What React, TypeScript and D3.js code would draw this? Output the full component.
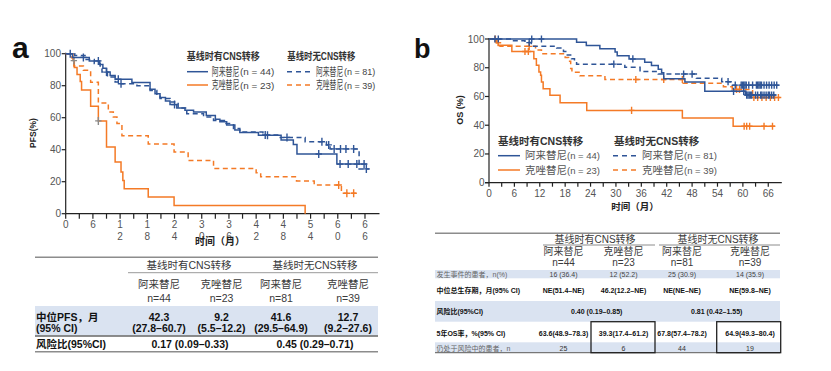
import React from "react";
import * as d3 from "d3";

type Pt = [number, number];

// ---------- panel a : PFS (month, % survival) ----------
const pfsAlecCnsPos: Pt[] = [
  [0, 100], [1.5, 97.7], [5.2, 95.5], [7.5, 93.2], [8.2, 90.9], [9, 88.6], [9.8, 86.4],
  [10.9, 84.1], [14.6, 82], [18.6, 77.8], [19.7, 75], [20.8, 72.7], [22, 70.5], [23, 68.2],
  [24.5, 66], [26.3, 64.6], [28.2, 63.6], [31, 61.4], [33, 59.1], [34, 57.5], [35.5, 55.4],
  [37.3, 52.3], [38.4, 50.8], [42.5, 49], [47.5, 46], [50.2, 43.2], [51, 37.3], [59.8, 31],
];
const pfsAlecCnsPosCensor = [1, 3.9, 7.2, 11.6, 24, 44.5, 55.8, 60.5, 62.3, 64.2, 65.8];
const pfsAlecCnsNeg: Pt[] = [
  [0, 100], [2, 98.8], [4.5, 96.3], [6.3, 93.8], [7.6, 90.6], [8, 88.5], [9.2, 85.4],
  [10.9, 82.3], [12, 81.2], [15.7, 80], [18.6, 77], [20.1, 74], [20.8, 72], [23, 69.8],
  [24.8, 66], [26.7, 62.5], [30.4, 60.4], [32.6, 58.3], [35, 56.3], [37, 53.3], [38.4, 51],
  [43.5, 49.2], [47, 47.7], [52.8, 45], [57.5, 43], [58.3, 40.5], [64.7, 28],
];
const pfsAlecCnsNegCensor = [9, 12.2, 44, 48.8, 56.5, 58, 59.2, 60.6, 61.8, 63.5, 66.3];
const pfsCrizCnsPos: Pt[] = [
  [0, 100], [1.6, 95.7], [1.9, 91.3], [2.5, 87], [3.2, 82.6], [3.5, 77.3], [5.5, 67.2],
  [7.2, 58], [9, 41.7], [10.9, 32.3], [12.2, 26], [12.6, 20.8], [12.9, 15.6], [18.2, 10.4],
  [23.9, 5.2], [52.8, 0],
];
const pfsCrizCnsPosGrayCensor = [1.8, 7.2];
const pfsCrizCnsNeg: Pt[] = [
  [0, 100], [1.3, 97.4], [1.8, 92.3], [3.9, 89.7], [5.5, 82.1], [7.2, 69.2], [9.4, 63.5],
  [10.5, 60.4], [11.3, 56.4], [12.4, 48.7], [18.2, 43.6], [23.9, 38.5], [27, 33.3],
  [32.6, 28.2], [42, 25.6], [43, 23.1], [50.9, 20.5], [54.8, 17.9], [60.8, 12.8],
];
const pfsCrizCnsNegCensor = [60.2, 62, 63.5];
const pfsEnds = [66.5, 67, 52.8, 64.6];

// ---------- panel b : OS ----------
const osAlecCnsPos: Pt[] = [
  [0, 100], [20.7, 97.7], [23, 95.5], [26.2, 93.2], [29.8, 90.9], [30.3, 88.4], [33.1, 86.1],
  [36.8, 83.8], [38.4, 81.5], [40, 79], [40.8, 76.6], [41.3, 72.4], [46.3, 70], [51, 63.6],
  [60.6, 61],
];
const osAlecCnsPosCensor = [
  1.4, 2.2, 10.1, 12.4, 34, 57.8, 60.2, 60.9, 61.2, 61.5, 61.8, 62.1, 63, 63.5, 64.2, 64.5,
  65, 65.5, 66, 66.3, 66.8, 67.3,
];
const osAlecCnsNeg: Pt[] = [
  [0, 100], [5.4, 98.8], [8.5, 97.5], [10, 95], [16, 93.8], [17.6, 91.3], [18.5, 88.8],
  [19.5, 86.3], [20.2, 84.1], [20.7, 82.5], [32.1, 80.3], [35.7, 77.3], [40, 75.6], [49, 72.6],
  [55, 70.3], [57.5, 67.9],
];
const osAlecCnsNegCensor = [
  9.5, 29.5, 46, 48, 56.5, 58.2, 59.6, 59.9, 60.2, 60.5, 60.8, 61.4, 62.3, 63.2, 63.5, 63.8,
  64.1, 64.4, 65, 65.6, 66.2, 66.8, 67.4, 68,
];
const osCrizCnsPos: Pt[] = [
  [0, 100], [2.2, 95.7], [5.4, 91.3], [10.6, 86.3], [11.2, 81.7], [11.8, 77], [12.2, 74.7],
  [12.4, 70], [12.8, 65.4], [14.4, 60.8], [16.8, 55.7], [23.1, 50.3], [45.7, 45], [57.7, 39.3],
];
const osCrizCnsPosCensor = [1.5, 8.5, 9.3, 33.7, 60.3, 60.9, 61.6, 65, 67];
const osCrizCnsNeg: Pt[] = [
  [0, 100], [1.8, 97.4], [2.6, 94.9], [11, 92.3], [12.4, 89.7], [18, 87.2], [18.8, 84.6],
  [19.3, 79.5], [19.6, 76.9], [21.5, 74.4], [27.4, 71.8], [45.9, 69.2], [55.4, 66.7],
  [57.5, 64.9], [62.3, 59.3],
];
const osCrizCnsNegCensor = [2.2, 9.5, 34.7, 41.3, 45.7, 58.5, 59.2, 62.6, 63.5, 64.5, 65.5, 66.5, 67.5, 68.4];
const osEnds = [67.8, 68.6, 67.6, 68.7];

// ---------- text ----------
const legendHeads = ["基线时有CNS转移", "基线时无CNS转移"];
const legendDrugs = ["阿来替尼", "克唑替尼"];
const legendN = [["(n = 44)", "(n = 23)"], ["(n = 81)", "(n = 39)"]];
const yTicks = [0, 20, 40, 60, 80, 100];

const tableDrugs = ["阿来替尼", "克唑替尼", "阿来替尼", "克唑替尼"];
const tableN = ["n=44", "n=23", "n=81", "n=39"];
const pfsMedian = ["42.3", "9.2", "41.6", "12.7"];
const pfsMedianCI = ["(27.8–60.7)", "(5.5–12.2)", "(29.5–64.9)", "(9.2–27.6)"];
const pfsHR = ["0.17 (0.09–0.33)", "0.45 (0.29–0.71)"];
const osEvents = ["16 (36.4)", "12 (52.2)", "25 (30.9)", "14 (35.9)"];
const osMedian = ["NE(51.4–NE)", "46.2(12.2–NE)", "NE(NE–NE)", "NE(59.8–NE)"];
const osHR = ["0.40 (0.19–0.85)", "0.81 (0.42–1.55)"];
const os5yr = ["63.6(48.9–78.3)", "39.3(17.4–61.2)", "67.8(57.4–78.2)", "64.9(49.3–80.4)"];
const osAtRisk = ["25", "6", "44", "19"];
const osRowLabels = ["发生事件的患者，n(%)", "中位总生存期，月(95% CI)", "风险比(95%CI)", "5年OS率，%(95% CI)", "仍处于风险中的患者，n"];

const BLUE = "#2f5597";
const ORANGE = "#f47a26";
const GRAY = "#8a8a8a";
const SANS = "'Liberation Sans', Arial, 'Noto Sans CJK SC', sans-serif";
const NARROW = "'Liberation Sans Narrow', 'Arial Narrow', 'Liberation Sans', 'Noto Sans CJK SC', sans-serif";

const stepAt = (pts: Pt[], t: number) => {
  let v = pts[0][1];
  for (const p of pts) if (p[0] <= t) v = p[1];
  return v;
};

interface Curve {
  pts: Pt[];
  end: number;
  censor: number[];
  color: string;
  dashed: boolean;
  censorColor?: string;
}

const KM: React.FC<{
  curves: Curve[];
  x: d3.ScaleLinear<number, number>;
  y: d3.ScaleLinear<number, number>;
  mark: number;
}> = ({ curves, x, y, mark }) => {
  const line = d3
    .line<Pt>()
    .x((d) => x(d[0]))
    .y((d) => y(d[1]))
    .curve(d3.curveStepAfter);
  return (
    <g>
      {curves.map((c, i) => {
        const data: Pt[] = [...c.pts, [c.end, c.pts[c.pts.length - 1][1]]];
        return (
          <g key={i}>
            <path d={line(data) || ""} fill="none" stroke={c.color} strokeWidth={1.5}
              strokeDasharray={c.dashed ? "5,3.5" : undefined} />
            {c.censor.map((t, j) => {
              const cx = x(t);
              const cy = y(stepAt(c.pts, t));
              return (
                <path key={j} d={`M${cx},${cy - mark}V${cy + mark}M${cx - mark * 0.8},${cy}H${cx + mark * 0.8}`}
                  stroke={c.censorColor || c.color} strokeWidth={1.4} />
              );
            })}
          </g>
        );
      })}
    </g>
  );
};

// condensed text, squeezed horizontally like the source figure
const Squeezed: React.FC<{ x: number; y: number; sx: number; size: number; family?: string; bold?: boolean; fill: string; children: React.ReactNode }> = ({
  x, y, sx, size, family, bold, fill, children,
}) => (
  <g transform={`translate(${x},${y}) scale(${sx},1)`}>
    <text fontSize={size} fontFamily={family} fontWeight={bold ? "bold" : undefined} fill={fill}>{children}</text>
  </g>
);

const App: React.FC = () => {
  // panel a scales
  const xA = d3.scaleLinear().domain([0, 69.2]).range([65.7, 379.5]);
  const yA = d3.scaleLinear().domain([0, 100]).range([213.7, 53.7]);
  // panel b scales
  const xB = d3.scaleLinear().domain([0, 69.2]).range([489, 781.8]);
  const yB = d3.scaleLinear().domain([0, 100]).range([182.7, 39]);

  const pfsCurves: Curve[] = [
    { pts: pfsCrizCnsNeg, end: pfsEnds[3], censor: pfsCrizCnsNegCensor, color: ORANGE, dashed: true },
    { pts: pfsCrizCnsPos, end: pfsEnds[2], censor: pfsCrizCnsPosGrayCensor, color: ORANGE, dashed: false, censorColor: GRAY },
    { pts: pfsAlecCnsNeg, end: pfsEnds[1], censor: pfsAlecCnsNegCensor, color: BLUE, dashed: true },
    { pts: pfsAlecCnsPos, end: pfsEnds[0], censor: pfsAlecCnsPosCensor, color: BLUE, dashed: false },
  ];
  const osCurves: Curve[] = [
    { pts: osCrizCnsNeg, end: osEnds[3], censor: osCrizCnsNegCensor, color: ORANGE, dashed: true },
    { pts: osCrizCnsPos, end: osEnds[2], censor: osCrizCnsPosCensor, color: ORANGE, dashed: false },
    { pts: osAlecCnsNeg, end: osEnds[1], censor: osAlecCnsNegCensor, color: BLUE, dashed: true },
    { pts: osAlecCnsPos, end: osEnds[0], censor: osAlecCnsPosCensor, color: BLUE, dashed: false },
  ];

  const colA = [159, 221.5, 281, 348];
  const colB = [563.5, 623.5, 682, 750];
  const minor = d3.range(0, 69, 3);
  const major = d3.range(0, 67, 6);
  const colors = [BLUE, ORANGE];

  return (
    <svg width={831} height={371} style={{ position: "absolute", left: 0, top: 0, background: "#fff" }}
      fontFamily={SANS}>
      <rect width={831} height={371} fill="#fff" />

      {/* ================= panel a ================= */}
      <text x={12} y={58} fontSize={30} fontWeight="bold" fill="#111">a</text>

      <g stroke="#222" strokeWidth={1.2}>
        <line x1={xA(0)} x2={xA(0)} y1={yA(0)} y2={yA(100) - 1} />
        <line x1={xA(0)} x2={379.5} y1={yA(0)} y2={yA(0)} />
        {yTicks.map((t) => <line key={t} x1={xA(0) - 4} x2={xA(0)} y1={yA(t)} y2={yA(t)} />)}
        {minor.map((t) => <line key={t} x1={xA(t)} x2={xA(t)} y1={yA(0)} y2={yA(0) + 5} />)}
      </g>
      <g fontFamily={NARROW} fontSize={10} fill="#555" textAnchor="end">
        {yTicks.map((t) => <text key={t} x={61} y={yA(t) + 3.5}>{t}</text>)}
      </g>
      <g fontFamily={NARROW} fontSize={10} fill="#555" textAnchor="middle">
        {major.map((t) => {
          const s = String(t);
          return s.length === 1 ? (
            <text key={t} x={xA(t)} y={227.5}>{s}</text>
          ) : (
            <g key={t}>
              <text x={xA(t)} y={227.5}>{s[0]}</text>
              <text x={xA(t)} y={240.2}>{s[1]}</text>
            </g>
          );
        })}
      </g>
      <text x={220} y={245} fontSize={10} fontWeight="bold" textAnchor="middle" fill="#222">时间（月）</text>
      <text transform="translate(36,133) rotate(-90)" fontSize={8.5} fontWeight="bold" textAnchor="middle" fill="#222">PFS(%)</text>

      <KM curves={pfsCurves} x={xA} y={yA} mark={4} />

      {/* legend a */}
      <Squeezed x={186.7} y={60.3} sx={0.86} size={10.5} bold fill="#333">{legendHeads[0]}</Squeezed>
      <Squeezed x={287.3} y={60.3} sx={0.8} size={10.5} bold fill="#333">{legendHeads[1]}</Squeezed>
      {legendDrugs.map((d, i) => {
        const yy = 71.7 + i * 13.3;
        return (
          <g key={d}>
            <line x1={187} x2={208} y1={yy} y2={yy} stroke={colors[i]} strokeWidth={1.5} />
            <Squeezed x={211.7} y={yy + 4} sx={0.63} size={11} fill="#444">{d}</Squeezed>
            <Squeezed x={240} y={yy + 3.5} sx={1.1} size={9} family={NARROW} fill="#444">{legendN[0][i]}</Squeezed>
            <line x1={287} x2={312} y1={yy} y2={yy} stroke={colors[i]} strokeWidth={1.5} strokeDasharray="5,4" />
            <Squeezed x={316} y={yy + 4} sx={0.62} size={11} fill="#444">{d}</Squeezed>
            <Squeezed x={344} y={yy + 3.5} sx={1.0} size={9} family={NARROW} fill="#444">{legendN[1][i]}</Squeezed>
          </g>
        );
      })}

      {/* table a */}
      <rect x={35} y={306} width={343} height={29.5} fill="#dae3f1" />
      <line x1={35} x2={378} y1={257.3} y2={257.3} stroke="#8c8c8c" strokeWidth={1.6} />
      <line x1={128} x2={378} y1={272.7} y2={272.7} stroke="#9a9a9a" strokeWidth={1} />
      <line x1={35} x2={378} y1={336} y2={336} stroke="#666" strokeWidth={1.3} />
      <line x1={35} x2={378} y1={351.7} y2={351.7} stroke="#8c8c8c" strokeWidth={1.6} />
      <g textAnchor="middle" fill="#3a3a3a" fontSize={10.5}>
        <text x={189} y={269}>{legendHeads[0]}</text>
        <text x={315} y={269}>{legendHeads[1]}</text>
        {tableDrugs.map((d, i) => <text key={i} x={colA[i]} y={287.5}>{d}</text>)}
        {tableN.map((d, i) => <text key={i} x={colA[i]} y={301.5}>{d}</text>)}
      </g>
      <g fontWeight="bold" fill="#111" fontSize={10.5}>
        <text x={36} y={320.5}>中位PFS，月</text>
        <text x={36} y={332}>(95% CI)</text>
        <text x={36} y={348}>风险比(95%CI)</text>
        <g textAnchor="middle">
          {pfsMedian.map((d, i) => <text key={i} x={colA[i]} y={320.5}>{d}</text>)}
          {pfsMedianCI.map((d, i) => <text key={i} x={colA[i]} y={332}>{d}</text>)}
          <text x={190} y={348}>{pfsHR[0]}</text>
          <text x={315} y={348}>{pfsHR[1]}</text>
        </g>
      </g>

      {/* ================= panel b ================= */}
      <text x={414} y={58} fontSize={27} fontWeight="bold" fill="#111">b</text>

      <g stroke="#222" strokeWidth={1.2}>
        <line x1={xB(0)} x2={xB(0)} y1={yB(0)} y2={yB(100) - 1} />
        <line x1={xB(0) - 4} x2={781.8} y1={yB(0)} y2={yB(0)} />
        {yTicks.map((t) => <line key={t} x1={xB(0) - 4} x2={xB(0)} y1={yB(t)} y2={yB(t)} />)}
        {minor.map((t) => <line key={t} x1={xB(t)} x2={xB(t)} y1={yB(0)} y2={yB(0) + 4} />)}
      </g>
      <g fontFamily={NARROW} fontSize={10} fill="#555" textAnchor="end">
        {yTicks.map((t) => <text key={t} x={484.5} y={yB(t) + 3.5}>{t}</text>)}
      </g>
      <g fontFamily={NARROW} fontSize={10} fill="#555" textAnchor="middle">
        {major.map((t) => <text key={t} x={xB(t)} y={197}>{t}</text>)}
      </g>
      <text x={635} y={210} fontSize={9.5} fontWeight="bold" textAnchor="middle" fill="#222">时间（月）</text>
      <text transform="translate(463,110) rotate(-90)" fontSize={9} fontWeight="bold" textAnchor="middle" fill="#222">OS (%)</text>

      <KM curves={osCurves} x={xB} y={yB} mark={3.6} />

      {/* legend b */}
      <g>
        <text x={498} y={144.7} fontSize={10.5} fontWeight="bold" fill="#333">{legendHeads[0]}</text>
        <text x={614} y={144.7} fontSize={10.5} fontWeight="bold" fill="#333">{legendHeads[1]}</text>
        {legendDrugs.map((d, i) => {
          const yy = 155.7 + i * 14.3;
          return (
            <g key={d} fill="#555">
              <line x1={498} x2={520} y1={yy} y2={yy} stroke={colors[i]} strokeWidth={1.5} />
              <text x={525} y={yy + 3.7} fontSize={10.5}>{d}</text>
              <text x={567} y={yy + 3.5} fontSize={9.5}>{legendN[0][i]}</text>
              <line x1={613} x2={637} y1={yy} y2={yy} stroke={colors[i]} strokeWidth={1.5} strokeDasharray="5,4" />
              <text x={642} y={yy + 3.7} fontSize={10.5}>{d}</text>
              <text x={684} y={yy + 3.5} fontSize={9.5}>{legendN[1][i]}</text>
            </g>
          );
        })}
      </g>

      {/* table b */}
      <rect x={435} y={270} width={345} height={8.3} fill="#dae3f1" />
      <rect x={435} y={301} width={345} height={20.7} fill="#dae3f1" />
      <rect x={435} y={342.3} width={345} height={10.4} fill="#dae3f1" />
      <line x1={435} x2={780} y1={233.3} y2={233.3} stroke="#8c8c8c" strokeWidth={1.5} />
      <line x1={543} x2={655} y1={245} y2={245} stroke="#8c8c8c" strokeWidth={1} />
      <line x1={659} x2={780} y1={245} y2={245} stroke="#8c8c8c" strokeWidth={1} />
      <line x1={435} x2={780} y1={352.7} y2={352.7} stroke="#777" strokeWidth={1.3} />
      <rect x={591} y={321.7} width={64} height={31} fill="none" stroke="#222" strokeWidth={1.3} />
      <rect x={716.7} y={321.7} width={64} height={31} fill="none" stroke="#222" strokeWidth={1.3} />
      <g textAnchor="middle" fill="#3a3a3a" fontSize={10}>
        <text x={595} y={242.5}>{legendHeads[0]}</text>
        <text x={718} y={242.5}>{legendHeads[1]}</text>
        {tableDrugs.map((d, i) => <text key={i} x={colB[i]} y={254.8}>{d}</text>)}
        {tableN.map((d, i) => <text key={i} x={colB[i]} y={266}>{d}</text>)}
      </g>
      <g fontSize={7}>
        <text x={436.5} y={276.8} fill="#666">{osRowLabels[0]}</text>
        <text x={436.5} y={292.5} fill="#111" fontWeight="bold">{osRowLabels[1]}</text>
        <text x={436.5} y={314.2} fill="#111" fontWeight="bold">{osRowLabels[2]}</text>
        <text x={436.5} y={335.8} fill="#111" fontWeight="bold">{osRowLabels[3]}</text>
        <text x={436.5} y={350.8} fill="#666">{osRowLabels[4]}</text>
        <g textAnchor="middle">
          {osEvents.map((d, i) => <text key={i} x={colB[i]} y={276.8} fill="#444">{d}</text>)}
          {osMedian.map((d, i) => <text key={i} x={colB[i]} y={292.5} fill="#111" fontWeight="bold">{d}</text>)}
          <text x={596.7} y={314.2} fill="#111" fontWeight="bold">{osHR[0]}</text>
          <text x={716.7} y={314.2} fill="#111" fontWeight="bold">{osHR[1]}</text>
          {os5yr.map((d, i) => <text key={i} x={colB[i]} y={335.8} fill="#111" fontWeight="bold">{d}</text>)}
          {osAtRisk.map((d, i) => <text key={i} x={colB[i]} y={350.8} fill="#333">{d}</text>)}
        </g>
      </g>
    </svg>
  );
};

export default App;
